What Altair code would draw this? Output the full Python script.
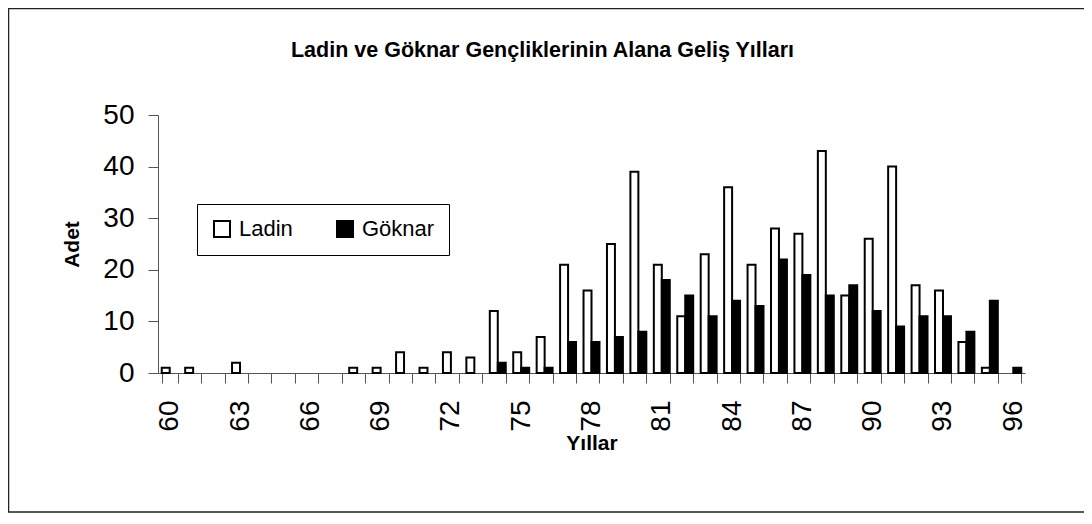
import json
import altair as alt
import pandas as pd

years = list(range(60, 97))
ladin = [1, 1, 0, 2, 0, 0, 0, 0, 1, 1, 4, 1, 4, 3, 12, 4, 7, 21, 16, 25, 39,
         21, 11, 23, 36, 21, 28, 27, 43, 15, 26, 40, 17, 16, 6, 1, 0]
goknar = [0, 0, 0, 0, 0, 0, 0, 0, 0, 0, 0, 0, 0, 0, 2, 1, 1, 6, 6, 7, 8,
          18, 15, 11, 14, 13, 22, 19, 15, 17, 12, 9, 11, 11, 8, 14, 1]
series_names = ["Ladin", "Göknar"]
series_colors = ["white", "black"]
x_tick_labels = [60, 63, 66, 69, 72, 75, 78, 81, 84, 87, 90, 93, 96]
y_tick_values = [0, 10, 20, 30, 40, 50]

rows = []
for yr, l, g in zip(years, ladin, goknar):
    rows.append({"yil": yr, "seri": "Ladin", "adet": l})
    rows.append({"yil": yr, "seri": "Göknar", "adet": g})
df = pd.DataFrame(rows)

FONT = "Liberation Sans"
AXIS_COLOR = "#555555"

bars = (
    alt.Chart(df)
    .transform_filter("datum.adet > 0")
    .mark_bar(stroke="black", strokeWidth=2)
    .encode(
        x=alt.X(
            "yil:O",
            scale=alt.Scale(domain=years, paddingInner=0.32, paddingOuter=0.16),
            axis=alt.Axis(
                title="Yıllar",
                titleFont=FONT,
                titleFontSize=21,
                titleFontWeight="bold",
                titleColor="black",
                titlePadding=1,
                labelFont=FONT,
                labelFontSize=28,
                labelColor="black",
                labelAngle=270,
                labelPadding=17,
                labelExpr="indexof(" + json.dumps(x_tick_labels) + ", datum.value) >= 0 ? datum.label : ''",
                labelOverlap=False,
                tickBand="extent",
                tickSize=10,
                tickColor=AXIS_COLOR,
                domainColor=AXIS_COLOR,
                grid=False,
            ),
        ),
        xOffset=alt.XOffset(
            "seri:N", sort=series_names,
            scale=alt.Scale(domain=series_names, paddingInner=0, paddingOuter=0),
        ),
        y=alt.Y(
            "adet:Q",
            scale=alt.Scale(domain=[0, 50], nice=False),
            axis=alt.Axis(
                values=y_tick_values,
                title="Adet",
                titleFont=FONT,
                titleFontSize=21,
                titleFontWeight="bold",
                titleColor="black",
                titlePadding=20,
                labelFont=FONT,
                labelFontSize=28,
                labelColor="black",
                labelPadding=14,
                tickSize=10,
                tickColor=AXIS_COLOR,
                domainColor=AXIS_COLOR,
                grid=False,
            ),
        ),
        color=alt.Color(
            "seri:N",
            sort=series_names,
            scale=alt.Scale(domain=series_names, range=series_colors),
            legend=alt.Legend(
                title=None,
                orient="none",
                legendX=39,
                legendY=89,
                direction="horizontal",
                symbolType="square",
                symbolSize=256,
                symbolStrokeColor="black",
                symbolStrokeWidth=2,
                labelFont=FONT,
                labelFontSize=22,
                labelColor="black",
                labelOffset=6,
                columnPadding=40,
                padding=14,
                strokeColor="black",
                fillColor="white",
            ),
        ),
    )
)

border = (
    alt.Chart(pd.DataFrame({"k": [0]}))
    .mark_rect(filled=False, stroke="#222222", strokeWidth=1.5)
    .encode(
        x=alt.value(-149.5),
        x2=alt.value(960),
        y=alt.value(-106.5),
        y2=alt.value(397),
    )
)

chart = (
    alt.layer(border, bars)
    .properties(
        width=867,
        height=258,
        autosize=alt.AutoSizeParams(type="none"),
        padding={"left": 150, "top": 107, "right": 59, "bottom": 141},
        title=alt.TitleParams(
            "Ladin ve Göknar Gençliklerinin Alana Geliş Yılları",
            font=FONT,
            fontSize=21.5,
            fontWeight="bold",
            color="black",
            anchor="middle",
            dx=-49,
            offset=-54,
        ),
        background="white",
    )
    .configure_view(strokeWidth=0)
)

chart.save("out.html", embed_options={"renderer": "svg", "actions": False})
